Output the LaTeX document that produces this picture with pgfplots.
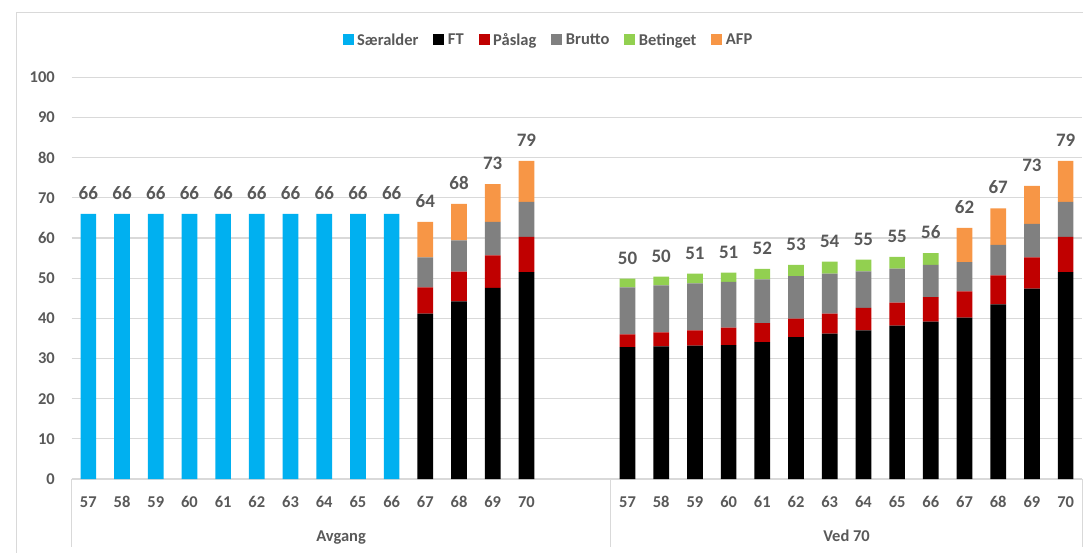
\documentclass[border=0pt]{standalone}
\usepackage{pgfplots}
\pgfplotsset{compat=1.18}
\usepackage{pgfplotstable}
\usepackage{fontspec}
\setmainfont{Carlito}
\definecolor{txt}{HTML}{595959}
\definecolor{gridc}{HTML}{D9D9D9}
\definecolor{csa}{HTML}{00B0F0}
\definecolor{cpa}{HTML}{C00000}
\definecolor{cbr}{HTML}{808080}
\definecolor{cbe}{HTML}{92D050}
\definecolor{cafp}{HTML}{F79646}
\pgfplotstableread{
x sa ft pa br be afp
0 66 0 0 0 0 0
1 66 0 0 0 0 0
2 66 0 0 0 0 0
3 66 0 0 0 0 0
4 66 0 0 0 0 0
5 66 0 0 0 0 0
6 66 0 0 0 0 0
7 66 0 0 0 0 0
8 66 0 0 0 0 0
9 66 0 0 0 0 0
10 0 41.2 6.5 7.5 0 8.8
11 0 44.2 7.4 7.8 0 9.1
12 0 47.6 8.1 8.3 0 9.4
13 0 51.5 8.8 8.7 0 10.2
14 0 0 0 0 0 0
15 0 0 0 0 0 0
16 0 32.8 3.2 11.7 2.2 0
17 0 33.0 3.5 11.7 2.2 0
18 0 33.2 3.8 11.7 2.4 0
19 0 33.3 4.4 11.4 2.3 0
20 0 34.1 4.7 10.9 2.6 0
21 0 35.3 4.6 10.6 2.8 0
22 0 36.2 5.0 9.9 3.0 0
23 0 37.0 5.6 9.1 2.9 0
24 0 38.2 5.7 8.5 2.9 0
25 0 39.2 6.1 8.0 2.9 0
26 0 40.2 6.5 7.3 0 8.5
27 0 43.5 7.2 7.6 0 9.1
28 0 47.4 7.8 8.3 0 9.5
29 0 51.5 8.8 8.7 0 10.2
}\data
\pgfplotstableread{
x tot lab
0 66 66
1 66 66
2 66 66
3 66 66
4 66 66
5 66 66
6 66 66
7 66 66
8 66 66
9 66 66
10 64.0 64
11 68.5 68
12 73.4 73
13 79.2 79
16 49.9 50
17 50.4 50
18 51.1 51
19 51.4 51
20 52.3 52
21 53.3 53
22 54.1 54
23 54.6 55
24 55.3 55
25 56.2 56
26 62.5 62
27 67.4 67
28 73.0 73
29 79.2 79
}\totals
\begin{document}
\begin{tikzpicture}
\useasboundingbox (0,0) rectangle (1083pt,552pt);
\draw[gridc, line width=1pt] (16pt,-20pt) -- (16pt,539pt) -- (1100pt,539pt);
\begin{axis}[
  at={(71.5pt,73pt)}, anchor=south west, scale only axis,
  width=1011pt, height=401.7pt,
  xmin=-0.5, xmax=29.5, ymin=0, ymax=100,
  ybar stacked, bar width=15.7pt,
  ytick={0,10,...,100}, ymajorgrids,
  grid style={draw=gridc, line width=1.3pt},
  xtick={0,1,2,3,4,5,6,7,8,9,10,11,12,13,16,17,18,19,20,21,22,23,24,25,26,27,28,29},
  xticklabels={57,58,59,60,61,62,63,64,65,66,67,68,69,70,57,58,59,60,61,62,63,64,65,66,67,68,69,70},
  axis line style={draw=none}, major tick length=0pt,
  tick label style={font=\fontsize{16.5}{19}\selectfont\bfseries, text=txt},
  /pgf/number format/assume math mode=true,
  xticklabel style={anchor=base, inner sep=0pt, yshift=-28.3pt},
  yticklabel style={anchor=east, inner sep=0pt, xshift=-16.5pt},
  clip=false,
  legend columns=6,
  legend style={at={(0.4718,1.0929)}, anchor=center, draw=none, fill=none,
    font=\fontsize{16.5}{19}\selectfont\bfseries, text=txt,
    /tikz/every even column/.append style={column sep=13pt},
    /tikz/every odd column/.append style={column sep=1.5pt}},
  legend image code/.code={\fill[#1] (0pt,-5.5pt) rectangle (11pt,5.5pt);},
]
\addplot[fill=csa, draw=none] table[x=x, y=sa] \data;
\addplot[fill=black, draw=none] table[x=x, y=ft] \data;
\addplot[fill=cpa, draw=none] table[x=x, y=pa] \data;
\addplot[fill=cbr, draw=none] table[x=x, y=br] \data;
\addplot[fill=cbe, draw=none] table[x=x, y=be] \data;
\addplot[fill=cafp, draw=none] table[x=x, y=afp] \data;
\legend{Særalder, FT, Påslag, Brutto, Betinget, AFP}
\draw[gridc, line width=1.3pt] (axis cs:-0.5,0) -- ++(0pt,-68pt);
\draw[gridc, line width=1.3pt] (axis cs:15.5,0) -- ++(0pt,-68pt);
\draw[gridc, line width=1.3pt] (axis cs:29.5,0) -- ++(0pt,-68pt);
\node[anchor=base, font=\fontsize{16.5}{19}\selectfont\bfseries, text=txt, yshift=-62pt] at (axis cs:7.5,0) {Avgang};
\node[anchor=base, font=\fontsize{16.5}{19}\selectfont\bfseries, text=txt, yshift=-62pt] at (axis cs:22.5,0) {Ved 70};
\end{axis}
\begin{axis}[
  at={(71.5pt,73pt)}, anchor=south west, scale only axis,
  width=1011pt, height=401.7pt,
  xmin=-0.5, xmax=29.5, ymin=0, ymax=100,
  hide axis, clip=false,
]
\addplot[only marks, mark=none, nodes near coords, point meta=explicit symbolic,
  every node near coord/.style={anchor=south, inner sep=0pt, yshift=14pt,
    font=\fontsize{19}{22}\selectfont\bfseries, text=txt}]
  table[x=x, y=tot, meta=lab] \totals;
\end{axis}
\end{tikzpicture}
\end{document}
